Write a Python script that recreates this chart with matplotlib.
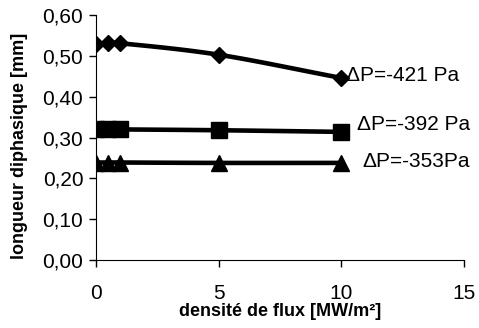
import numpy as np
import matplotlib
matplotlib.use("Agg")
import matplotlib.pyplot as plt

plt.rcParams['font.family'] = ['Liberation Sans', 'DejaVu Sans']

# flux density [MW/m2]
flux = [0, 0.5, 1, 5, 10]
# two-phase length [mm] for each pressure drop
len_421 = [0.530, 0.531, 0.531, 0.503, 0.446]
len_392 = [0.320, 0.320, 0.320, 0.318, 0.314]
len_353 = [0.239, 0.239, 0.239, 0.238, 0.238]
labels = ["ΔP=-421 Pa", "ΔP=-392 Pa", "ΔP=-353Pa"]
yticks = [0.0, 0.1, 0.2, 0.3, 0.4, 0.5, 0.6]


def smooth(x, y, n=20):
    # catmull-rom style curve through the points (like excel smoothed lines)
    x = np.asarray(x, float)
    y = np.asarray(y, float)
    px = np.concatenate([[2 * x[0] - x[1]], x, [2 * x[-1] - x[-2]]])
    py = np.concatenate([[2 * y[0] - y[1]], y, [2 * y[-1] - y[-2]]])
    xs, ys = [], []
    t = np.linspace(0, 1, n)
    for i in range(1, len(px) - 2):
        for p, out in ((px, xs), (py, ys)):
            p0, p1, p2, p3 = p[i - 1], p[i], p[i + 1], p[i + 2]
            out.extend(0.5 * (2 * p1 + (-p0 + p2) * t
                              + (2 * p0 - 5 * p1 + 4 * p2 - p3) * t ** 2
                              + (-p0 + 3 * p1 - 3 * p2 + p3) * t ** 3))
    return xs, ys


fig, ax = plt.subplots(figsize=(4.79, 3.28), dpi=100)
fig.subplots_adjust(left=0.2, right=0.969, top=0.954, bottom=0.207)

series = [(len_421, 'D', 8), (len_392, 's', 11), (len_353, '^', 11)]
for ys, mk, ms in series:
    sx, sy = smooth(flux, ys)
    ax.plot(sx, sy, color='black', lw=3.3)
    ax.plot(flux, ys, ls='none', marker=mk, ms=ms, color='black')

ax.text(10.2, len_421[-1] + 0.005, labels[0], fontsize=15, va='center')
ax.text(10.65, len_392[-1] + 0.017, labels[1], fontsize=15, va='center')
ax.text(10.85, len_353[-1] + 0.003, labels[2], fontsize=15, va='center')

ax.set_xlim(0, 15)
ax.set_ylim(0, 0.6)
ax.set_xticks([0, 5, 10, 15])
ax.set_yticks(yticks)
ax.set_yticklabels([f"{v:.2f}".replace('.', ',') for v in yticks])
ax.tick_params(labelsize=15, direction='out', length=5, width=1, pad=4)
ax.tick_params(axis='x', pad=12)
ax.spines['top'].set_visible(False)
ax.spines['right'].set_visible(False)
ax.set_xlabel("densité de flux [MW/m²]", fontsize=13, fontweight='bold', labelpad=0)
ax.set_ylabel("longueur diphasique [mm]", fontsize=13, fontweight='bold')
ax.yaxis.set_label_coords(-0.185, 0.465)

fig.savefig("out.png")
